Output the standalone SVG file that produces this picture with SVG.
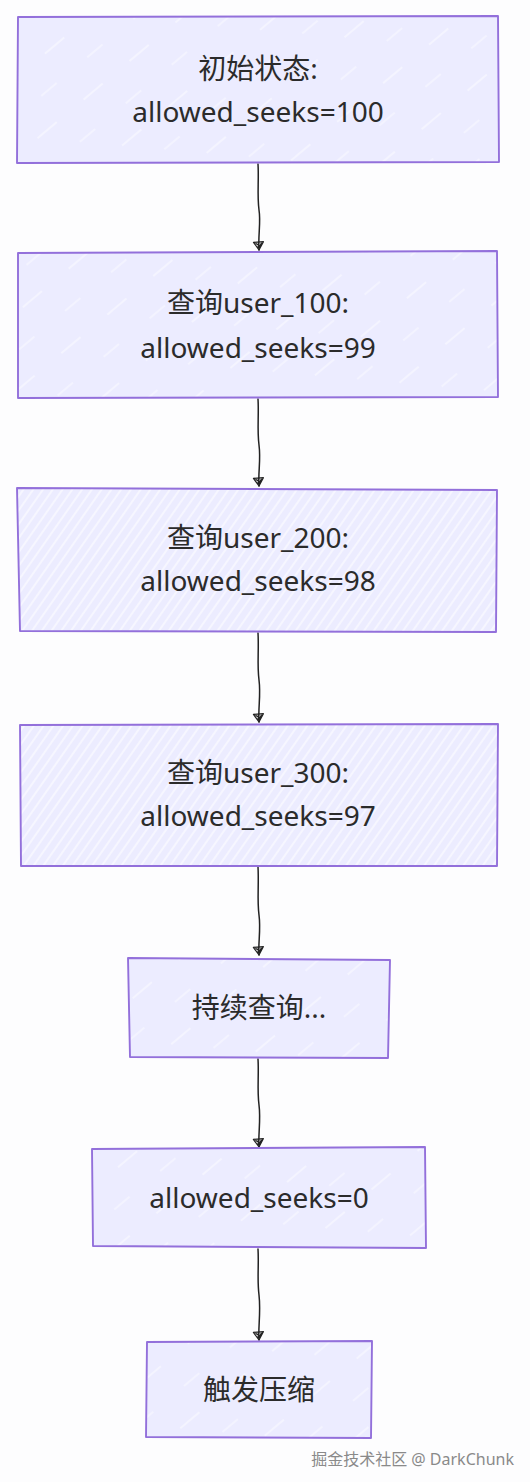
<svg xmlns="http://www.w3.org/2000/svg" width="530" height="1482" viewBox="0 0 530 1482">
<style>
.bg{fill:#fdfdfe}
.box{stroke:#9370DB;stroke-width:1.9;stroke-linejoin:round}
.edge{fill:none;stroke:#222;stroke-width:1.5;stroke-linecap:round}
.t{font-family:"Noto Sans","Noto Sans CJK SC",sans-serif;font-size:28px;fill:#2b2b2b;text-anchor:middle}
.wm{font-family:"Noto Sans","Noto Sans CJK SC",sans-serif;font-size:16px;fill:#8a8a8a;text-anchor:end}
</style>
<defs>
<pattern id="sparse" patternUnits="userSpaceOnUse" width="60" height="60" patternTransform="rotate(-40)">
<rect width="60" height="60" fill="#ECECFF"/>
<line x1="0" y1="10" x2="25" y2="10" stroke="#fff" stroke-width="1" opacity="0.8"/>
<line x1="30" y1="40" x2="50" y2="40" stroke="#fff" stroke-width="1" opacity="0.7"/>
</pattern>
<pattern id="dense" patternUnits="userSpaceOnUse" width="8" height="8" patternTransform="rotate(-55)">
<rect width="8" height="8" fill="#ECECFF"/>
<line x1="0" y1="4" x2="8" y2="4" stroke="#fff" stroke-width="1.3" opacity="0.85"/>
</pattern>
<marker id="arr" viewBox="0 0 12 12" refX="11" refY="6" markerWidth="12" markerHeight="12" markerUnits="userSpaceOnUse" orient="auto">
<path d="M3,1 L3,11 L11,6 Z M4,3 L9,6 M3,6 L10,7 M4,9 L8,4" fill="none" stroke="#222" stroke-width="1.2" stroke-linejoin="round"/>
</marker>
</defs>
<rect class="bg" width="530" height="1482"/>

<g id="connectors">
<path class="edge" d="M258,164 C259,180 257,195 259,210 C261,222 258,235 259,250" marker-end="url(#arr)"/>
<path class="edge" d="M258,399 C259,415 257,430 259,445 C261,460 258,472 259,486" marker-end="url(#arr)"/>
<path class="edge" d="M258,633 C259,650 257,665 259,680 C261,695 258,708 259,722" marker-end="url(#arr)"/>
<path class="edge" d="M258,867 C259,885 257,900 259,915 C261,930 258,943 259,955" marker-end="url(#arr)"/>
<path class="edge" d="M258,1059 C259,1075 257,1090 259,1105 C261,1120 258,1135 259,1147" marker-end="url(#arr)"/>
<path class="edge" d="M258,1249 C259,1265 257,1280 259,1295 C261,1312 258,1327 259,1340" marker-end="url(#arr)"/>
</g>

<g id="n1">
<path class="box" fill="url(#sparse)" d="M18,17 L498,16 L499,162 L17,163 Z"/>
<text class="t" x="258" y="79">初始状态:</text>
<text class="t" x="258" y="122">allowed_seeks=100</text>
</g>
<g id="n2">
<path class="box" fill="url(#sparse)" d="M18,253 L497,251 L498,397 L18,398 Z"/>
<text class="t" x="258" y="313">查询user_100:</text>
<text class="t" x="258" y="358">allowed_seeks=99</text>
</g>
<g id="n3">
<path class="box" fill="url(#dense)" d="M17,488 L497,490 L496,632 L20,631 Z"/>
<text class="t" x="258" y="548">查询user_200:</text>
<text class="t" x="258" y="591">allowed_seeks=98</text>
</g>
<g id="n4">
<path class="box" fill="url(#dense)" d="M20,725 L498,724 L497,866 L21,866 Z"/>
<text class="t" x="258" y="783">查询user_300:</text>
<text class="t" x="258" y="826">allowed_seeks=97</text>
</g>
<g id="n5">
<path class="box" fill="url(#sparse)" d="M128,958 L390,960 L388,1058 L130,1057 Z"/>
<text class="t" x="259" y="1018">持续查询...</text>
</g>
<g id="n6">
<path class="box" fill="url(#sparse)" d="M92,1149 L425,1147 L426,1248 L93,1246 Z"/>
<text class="t" x="259" y="1208">allowed_seeks=0</text>
</g>
<g id="n7">
<path class="box" fill="url(#sparse)" d="M147,1342 L372,1341 L371,1438 L146,1437 Z"/>
<text class="t" x="259" y="1400">触发压缩</text>
</g>
<text class="wm" x="514" y="1465">掘金技术社区 @ DarkChunk</text>
</svg>
